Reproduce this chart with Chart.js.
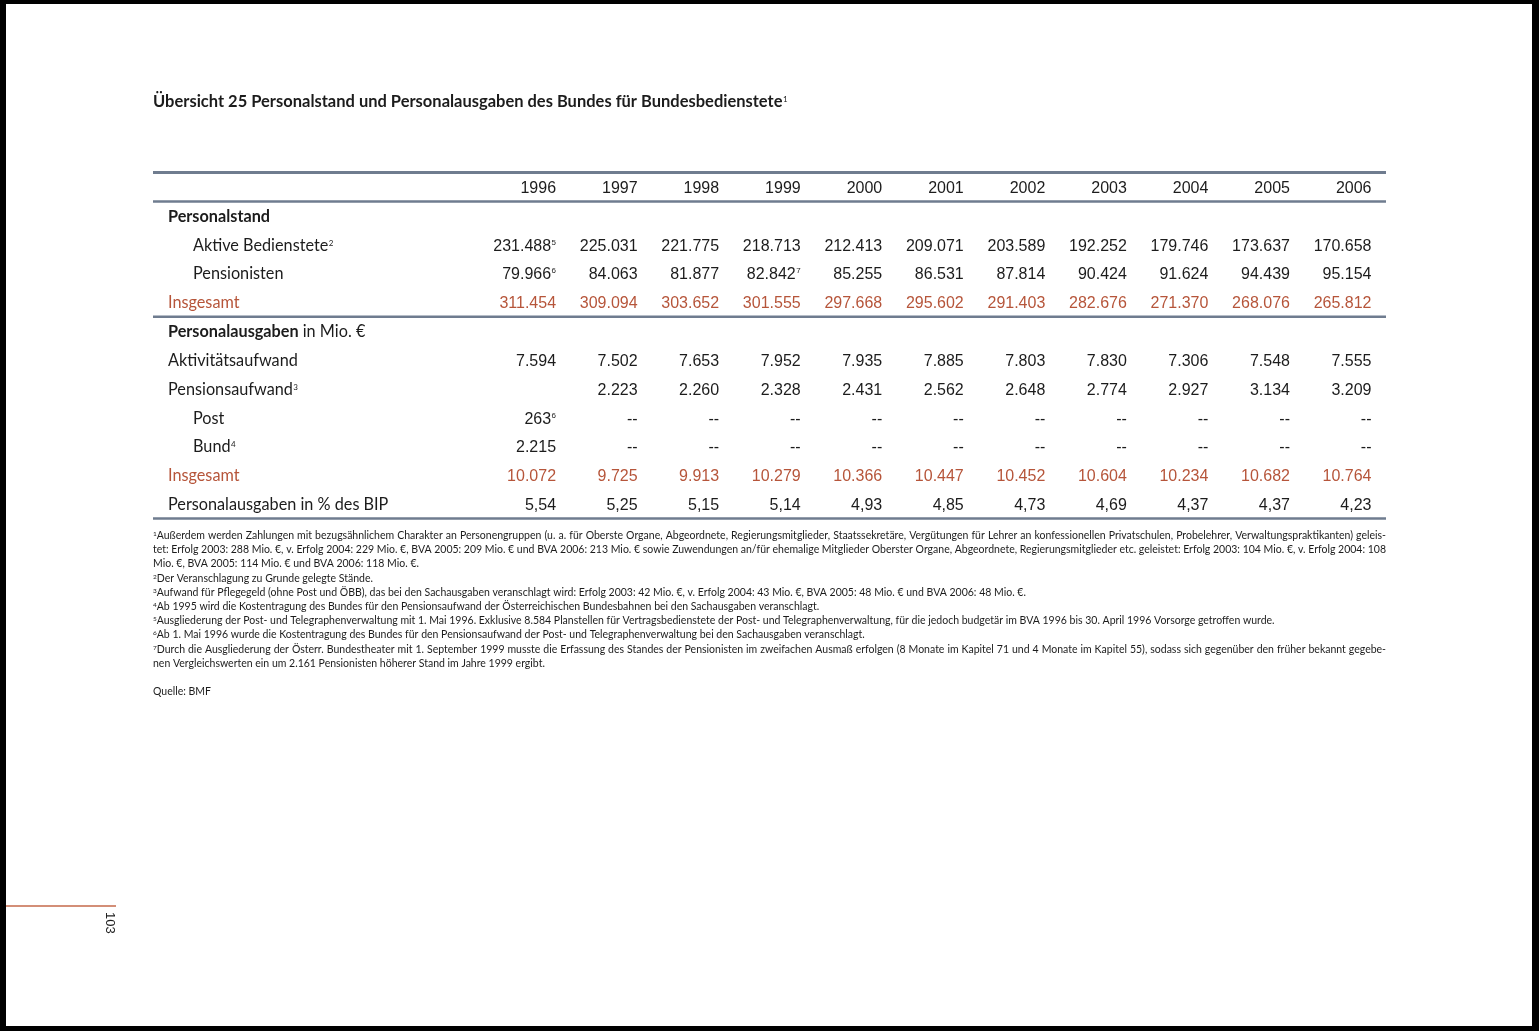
<!DOCTYPE html>
<html>
<head>
<meta charset="utf-8">
<script src="https://cdn.jsdelivr.net/npm/chart.js"></script>
<style>
  html, body { margin: 0; padding: 0; background: #000; }
  canvas { display: block; }
</style>
</head>
<body>
<canvas id="tableChart" width="1539" height="1031"></canvas>
<script>
// Table data
const years = ['1996', '1997', '1998', '1999', '2000', '2001', '2002', '2003', '2004', '2005', '2006'];
const rowKeys = ['Jahr', 'Personalstand', 'Aktive', 'Pensionisten', 'InsgesamtStand', 'Personalausgaben',
                 'Aktivitaet', 'Pension', 'Post', 'Bund', 'InsgesamtAusgaben', 'BIP'];

const aktiveBedienstete = [231488, 225031, 221775, 218713, 212413, 209071, 203589, 192252, 179746, 173637, 170658];
const pensionisten = [79966, 84063, 81877, 82842, 85255, 86531, 87814, 90424, 91624, 94439, 95154];
const insgesamtStand = [311454, 309094, 303652, 301555, 297668, 295602, 291403, 282676, 271370, 268076, 265812];
const aktivitaetsaufwand = [7594, 7502, 7653, 7952, 7935, 7885, 7803, 7830, 7306, 7548, 7555];
const pensionsaufwand = [null, 2223, 2260, 2328, 2431, 2562, 2648, 2774, 2927, 3134, 3209];
const post = [263, null, null, null, null, null, null, null, null, null, null];
const bund = [2215, null, null, null, null, null, null, null, null, null, null];
const insgesamtAusgaben = [10072, 9725, 9913, 10279, 10366, 10447, 10452, 10604, 10234, 10682, 10764];
const bipAnteil = [5.54, 5.25, 5.15, 5.14, 4.93, 4.85, 4.73, 4.69, 4.37, 4.37, 4.23];

const aktiveNotes = { 0: '5' };
const pensionistenNotes = { 0: '6', 3: '7' };
const postNotes = { 0: '6' };

const footnotes = [
  ['1', 'Außerdem werden Zahlungen mit bezugsähnlichem Charakter an Personengruppen (u. a. für Oberste Organe, Abgeordnete, Regierungsmitglieder, Staatssekretäre, Vergütungen für Lehrer an konfessionellen Privatschulen, Probelehrer, Verwaltungspraktikanten) geleis-', true],
  ['', 'tet: Erfolg 2003: 288 Mio. €, v. Erfolg 2004: 229 Mio. €, BVA 2005: 209 Mio. € und BVA 2006: 213 Mio. € sowie Zuwendungen an/für ehemalige Mitglieder Oberster Organe, Abgeordnete, Regierungsmitglieder etc. geleistet: Erfolg 2003: 104 Mio. €, v. Erfolg 2004: 108', true],
  ['', 'Mio. €, BVA 2005: 114 Mio. € und BVA 2006: 118 Mio. €.', false],
  ['2', 'Der Veranschlagung zu Grunde gelegte Stände.', false],
  ['3', 'Aufwand für Pflegegeld (ohne Post und ÖBB), das bei den Sachausgaben veranschlagt wird: Erfolg 2003: 42 Mio. €, v. Erfolg 2004: 43 Mio. €, BVA 2005: 48 Mio. € und BVA 2006: 48 Mio. €.', false],
  ['4', 'Ab 1995 wird die Kostentragung des Bundes für den Pensionsaufwand der Österreichischen Bundesbahnen bei den Sachausgaben veranschlagt.', false],
  ['5', 'Ausgliederung der Post- und Telegraphenverwaltung mit 1. Mai 1996. Exklusive 8.584 Planstellen für Vertragsbedienstete der Post- und Telegraphenverwaltung, für die jedoch budgetär im BVA 1996 bis 30. April 1996 Vorsorge getroffen wurde.', false],
  ['6', 'Ab 1. Mai 1996 wurde die Kostentragung des Bundes für den Pensionsaufwand der Post- und Telegraphenverwaltung bei den Sachausgaben veranschlagt.', false],
  ['7', 'Durch die Ausgliederung der Österr. Bundestheater mit 1. September 1999 musste die Erfassung des Standes der Pensionisten im zweifachen Ausmaß erfolgen (8 Monate im Kapitel 71 und 4 Monate im Kapitel 55), sodass sich gegenüber den früher bekannt gegebe-', true],
  ['', 'nen Vergleichswerten ein um 2.161 Pensionisten höherer Stand im Jahre 1999 ergibt.', false]
];

// Styling
const INK = '#1c1c1c';
const RED = '#b6553a';
const RULE = '#6f7c8f';
const LABEL_FONT = 'Lato, "Open Sans", sans-serif';
const NUM_FONT = '"Liberation Sans", Arial, sans-serif';
const LEFT = 153, RIGHT = 1386;
const labelSX = 0.955;

const fmtInt = (n) => String(n).replace(/\B(?=(\d{3})+(?!\d))/g, '.');
const fmtDec = (n) => n.toFixed(2).replace('.', ',');

function rowSet(key, values, opts) {
  return Object.assign({
    label: key,
    data: years.map((yr, i) => ({ x: yr, y: key, v: values[i] })),
    notes: {},
    fmt: fmtInt,
    color: INK,
    dash: false
  }, opts || {});
}

const datasets = [
  rowSet('Aktive', aktiveBedienstete, { notes: aktiveNotes }),
  rowSet('Pensionisten', pensionisten, { notes: pensionistenNotes }),
  rowSet('InsgesamtStand', insgesamtStand, { color: RED }),
  rowSet('Aktivitaet', aktivitaetsaufwand),
  rowSet('Pension', pensionsaufwand),
  rowSet('Post', post, { notes: postNotes, dash: true }),
  rowSet('Bund', bund, { dash: true }),
  rowSet('InsgesamtAusgaben', insgesamtAusgaben, { color: RED }),
  rowSet('BIP', bipAnteil, { fmt: fmtDec })
];

// draw text squeezed horizontally, like the condensed face of the print
function drawScaled(ctx, text, x, y, sx) {
  ctx.save();
  ctx.translate(x, y);
  ctx.scale(sx, 1);
  ctx.fillText(text, 0, 0);
  ctx.restore();
  return ctx.measureText(text).width * sx;
}

function drawSup(ctx, text, x, y, size, family) {
  const old = ctx.font;
  ctx.font = size + 'px ' + family;
  ctx.fillText(text, x, y - size * 0.62);
  const w = ctx.measureText(text).width;
  ctx.font = old;
  return w;
}

const tablePlugin = {
  id: 'tablePlugin',
  beforeDraw(chart) {
    const ctx = chart.ctx;
    ctx.save();
    ctx.fillStyle = '#000';
    ctx.fillRect(0, 0, chart.width, chart.height);
    ctx.fillStyle = '#ffffff';
    ctx.fillRect(6, 4, chart.width - 13, chart.height - 9);
    ctx.restore();
  },
  afterDraw(chart) {
    const ctx = chart.ctx;
    const xs = chart.scales.x, ys = chart.scales.y;
    const band = xs.getPixelForValue(1) - xs.getPixelForValue(0);
    const rowH = ys.getPixelForValue(1) - ys.getPixelForValue(0);
    const base = (r) => ys.getPixelForValue(r) + 6;
    ctx.save();
    ctx.textBaseline = 'alphabetic';

    // title
    ctx.fillStyle = INK;
    ctx.font = 'bold 17px ' + LABEL_FONT;
    ctx.textAlign = 'left';
    const tw = drawScaled(ctx, 'Übersicht 25 Personalstand und Personalausgaben des Bundes für Bundesbedienstete', LEFT, 107, 0.97);
    drawSup(ctx, '1', LEFT + tw + 0.5, 107, 8, LABEL_FONT);

    // rules
    ctx.strokeStyle = RULE;
    const rule = (y, w) => {
      ctx.lineWidth = w;
      ctx.beginPath();
      ctx.moveTo(LEFT, y);
      ctx.lineTo(RIGHT, y);
      ctx.stroke();
    };
    rule(ys.top, 3);
    rule(ys.getPixelForValue(0) + rowH / 2, 2.5);
    rule(ys.getPixelForValue(4) + rowH / 2, 2.5);
    rule(ys.bottom, 2.5);

    // year header
    ctx.font = '16px ' + NUM_FONT;
    ctx.textAlign = 'right';
    years.forEach((yr, i) => {
      ctx.fillText(yr, xs.getPixelForValue(i) + band / 2, base(0));
    });

    // row labels
    ctx.textAlign = 'left';
    const indented = [2, 3, 8, 9];
    const labelParts = {
      1: [['Personalstand', 'bold']],
      2: [['Aktive Bedienstete', ''], ['2', 'sup']],
      3: [['Pensionisten', '']],
      4: [['Insgesamt', '', RED]],
      5: [['Personalausgaben', 'bold'], [' in Mio. €', '']],
      6: [['Aktivitätsaufwand', '']],
      7: [['Pensionsaufwand', ''], ['3', 'sup']],
      8: [['Post', '']],
      9: [['Bund', ''], ['4', 'sup']],
      10: [['Insgesamt', '', RED]],
      11: [['Personalausgaben in % des BIP', '']]
    };
    Object.keys(labelParts).forEach((r) => {
      let x = indented.includes(+r) ? 193 : 168;
      const y = base(+r);
      labelParts[r].forEach(([txt, style, col]) => {
        ctx.fillStyle = col || INK;
        if (style === 'sup') {
          x += drawSup(ctx, txt, x + 0.5, y, 8, LABEL_FONT) + 1;
        } else {
          ctx.font = (style === 'bold' ? 'bold ' : '') + '17px ' + LABEL_FONT;
          x += drawScaled(ctx, txt, x, y, labelSX);
        }
      });
    });

    // cells, placed on the points the scatter controller laid out
    ctx.font = '16px ' + NUM_FONT;
    chart.data.datasets.forEach((ds, d) => {
      const meta = chart.getDatasetMeta(d);
      meta.data.forEach((el, i) => {
        const v = ds.data[i].v;
        let txt;
        if (v === null || v === undefined) {
          if (!ds.dash) return;
          txt = '--';
        } else {
          txt = ds.fmt(v);
        }
        const right = el.x + band / 2;
        const y = el.y + 6;
        ctx.fillStyle = ds.color;
        const note = ds.notes[i];
        let noteW = 0;
        if (note) {
          ctx.font = '8px ' + NUM_FONT;
          noteW = ctx.measureText(note).width + 0.5;
          ctx.textAlign = 'left';
          ctx.fillText(note, right - noteW + 0.5, y - 6);
          ctx.font = '16px ' + NUM_FONT;
        }
        ctx.textAlign = 'right';
        ctx.fillText(txt, right - noteW, y);
      });
    });

    // footnotes
    ctx.fillStyle = INK;
    ctx.textAlign = 'left';
    const fnFont = '10.5px ' + LABEL_FONT;
    const fnSX = 1.0;
    footnotes.forEach(([sup, text, justify], k) => {
      const y = 539 + k * 14.2;
      let x = LEFT;
      if (sup) x += drawSup(ctx, sup, x, y + 1, 6.5, LABEL_FONT);
      ctx.font = fnFont;
      if (justify) {
        const words = text.split(' ');
        const widths = words.map((w) => ctx.measureText(w).width * fnSX);
        const sum = widths.reduce((a, b) => a + b, 0);
        const gap = (RIGHT - x - sum) / (words.length - 1);
        words.forEach((w, j) => {
          drawScaled(ctx, w, x, y, fnSX);
          x += widths[j] + gap;
        });
      } else {
        drawScaled(ctx, text, x, y, fnSX);
      }
    });
    drawScaled(ctx, 'Quelle: BMF', LEFT, 695, fnSX);

    // page number
    ctx.strokeStyle = '#c4694a';
    ctx.lineWidth = 1.5;
    ctx.beginPath();
    ctx.moveTo(6, 906);
    ctx.lineTo(116, 906);
    ctx.stroke();
    ctx.save();
    ctx.translate(106, 912);
    ctx.rotate(Math.PI / 2);
    ctx.font = '13px ' + NUM_FONT;
    ctx.fillStyle = INK;
    ctx.fillText('103', 0, 0);
    ctx.restore();

    ctx.restore();
  }
};

const tableCtx = document.querySelector('#tableChart').getContext('2d');
let tableChart = new Chart(tableCtx, {
  type: 'scatter',
  data: { datasets: datasets },
  options: {
    responsive: false,
    animation: false,
    layout: {
      padding: { left: 474.5, right: 167.5, top: 172.6, bottom: 512.6 }
    },
    elements: { point: { radius: 0, hoverRadius: 0 } },
    plugins: {
      legend: { display: false },
      tooltip: { enabled: false }
    },
    scales: {
      x: { type: 'category', labels: years, offset: true, display: false },
      y: { type: 'category', labels: rowKeys, offset: true, display: false }
    }
  },
  plugins: [tablePlugin]
});
</script>
</body>
</html>
